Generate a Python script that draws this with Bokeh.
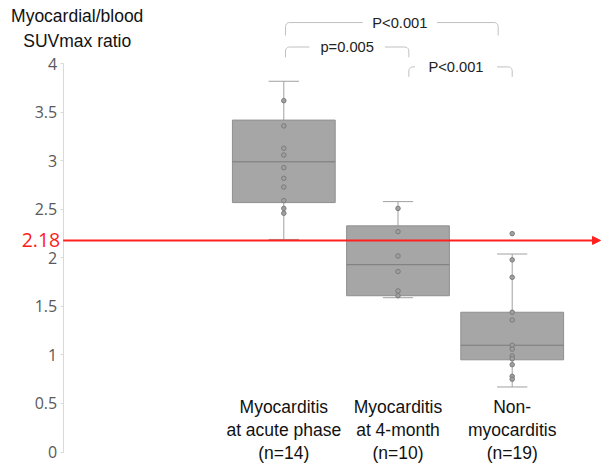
import numpy as np
from bokeh.plotting import figure
from bokeh.models import Range1d, FixedTicker, Arrow, NormalHead
from bokeh.core.properties import value
from bokeh.embed import file_html
from bokeh.resources import INLINE

# ---------------- data ----------------
categories = ["Myocarditis\nat acute phase\n(n=14)",
              "Myocarditis\nat 4-month\n(n=10)",
              "Non-\nmyocarditis\n(n=19)"]
q1 = [2.57, 1.61, 0.95]
median = [2.99, 1.93, 1.10]
q3 = [3.42, 2.33, 1.44]
whisker_low = [2.19, 1.59, 0.67]
whisker_high = [3.82, 2.58, 2.04]
points_acute = [3.62, 3.36, 3.13, 3.06, 2.93, 2.82, 2.73, 2.59, 2.51, 2.46]
points_4month = [2.51, 2.27, 2.02, 1.86, 1.66, 1.61]
points_non = [2.25, 1.98, 1.80, 1.44, 1.36, 1.10, 1.06, 0.99, 0.96, 0.90, 0.78, 0.75]
threshold = 2.18
threshold_label = "2.18"
y_ticks = [0, 0.5, 1, 1.5, 2, 2.5, 3, 3.5, 4]
y_tick_labels = ["0", "0.5", "1", "1.5", "2", "2.5", "3", "3.5", "4"]
comparisons = [(0, 2, "P<0.001"), (0, 1, "p=0.005"), (1, 2, "P<0.001")]
y_title = "Myocardial/blood\nSUVmax ratio"

# ---------------- styling / layout ----------------
FONT = value("Liberation Sans")
W, H = 602, 463
xs = np.arange(1, len(categories) + 1, dtype=float)
PXX = 114.2                        # px per x unit
Y_ZERO_PX, Y_FOUR_PX = 451.5, 63.3
PXY = (Y_ZERO_PX - Y_FOUR_PX) / 4  # px per y unit
X0 = 1 - 283.3 / PXX
X1 = X0 + W / PXX
Y0 = -(H - Y_ZERO_PX) / PXY
Y1 = Y0 + H / PXY
AXIS_X = 1 - (283.3 - 62.7) / PXX

p = figure(width=W, height=H, x_range=Range1d(X0, X1), y_range=Range1d(Y0, Y1),
           output_backend="svg", toolbar_location=None, x_axis_location=None,
           min_border=0)
p.grid.visible = False
p.outline_line_color = None
p.background_fill_color = "white"

ax = p.yaxis[0]
ax.fixed_location = AXIS_X
ax.ticker = FixedTicker(ticks=y_ticks)
ax.major_label_overrides = dict(zip(y_ticks, y_tick_labels))
ax.bounds = (0, 4)
ax.axis_line_color = "#d9d9d9"
ax.major_tick_line_color = "#d9d9d9"
ax.major_tick_in = 0
ax.major_tick_out = 3
ax.minor_tick_line_color = None
ax.major_label_text_font = "Open Sans"
ax.major_label_text_font_size = "16px"
ax.major_label_text_color = "#595959"
ax.major_label_standoff = 3

# boxes
box_w = 0.9
cap_w = 0.265
wcol = "#a0a0a0"
p.segment(x0=xs, y0=q3, x1=xs, y1=whisker_high, line_color=wcol, line_width=1)
p.segment(x0=xs, y0=q1, x1=xs, y1=whisker_low, line_color=wcol, line_width=1)
p.segment(x0=xs - cap_w / 2, y0=whisker_high, x1=xs + cap_w / 2, y1=whisker_high,
          line_color=wcol, line_width=1)
p.segment(x0=xs - cap_w / 2, y0=whisker_low, x1=xs + cap_w / 2, y1=whisker_low,
          line_color=wcol, line_width=1)
p.vbar(x=xs, width=box_w, bottom=q1, top=q3, fill_color="#a6a6a6",
       line_color="#8f8f8f", line_width=1)
p.segment(x0=xs - box_w / 2, y0=median, x1=xs + box_w / 2, y1=median,
          line_color="#7a7a7a", line_width=1)

# points
groups = [points_acute, points_4month, points_non]
px = np.concatenate([[xs[i]] * len(g) for i, g in enumerate(groups)])
py = np.concatenate(groups)
p.scatter(px, py, size=4.5, fill_color="#a0a0a0", line_color="#7a7a7a", line_width=1)

# threshold arrow and label
p.add_layout(Arrow(x_start=AXIS_X, y_start=threshold, x_end=X1 - 2 / PXX, y_end=threshold,
                   line_color="#ff2020", line_width=2,
                   end=NormalHead(size=8, fill_color="#ff2020", line_color="#ff2020")))
p.text(x=[AXIS_X], y=[threshold], text=[threshold_label], x_offset=-3,
       text_align="right", text_baseline="middle", text_color="#ff1a1a",
       text_font=value("Open Sans"), text_font_size="19.5px")

# y title
p.text(x=[AXIS_X], y=[Y1], text=[y_title], x_offset=14, y_offset=28,
       text_align="center", text_baseline="middle", text_color="#111111",
       text_font=FONT, text_font_size="17.5px", text_line_height=1.25)

# category labels
p.text(x=xs, y=[0] * len(xs), text=categories, text_align="center", text_baseline="middle",
       y_offset=-22, text_font=FONT, text_font_size="17.5px", text_color="#111111",
       text_line_height=1.15)

# significance brackets
levels = [4.425, 4.173, 3.968]
legs = [0.133, 0.106, 0.102]
end_off = [(0.015, -0.123), (0.015, 0.095), (0.095, 0.0)]
text_dx = [0.07, 0.0, -0.04]
gap_half = [0.325, 0.33, 0.36]
rx, ry = 4 / PXX, 4 / PXY
th = np.linspace(0, np.pi / 2, 6)
bx, by, tx, ty, tt = [], [], [], [], []
for k, (i, j, lab) in enumerate(comparisons):
    xl = xs[i] + end_off[k][0]
    xr = xs[j] + end_off[k][1]
    yt = levels[k]
    yb = yt - legs[k]
    xc = (xl + xr) / 2 + text_dx[k]
    arc_x = xl + rx - rx * np.cos(th)
    arc_y = yt - ry + ry * np.sin(th)
    bx.append(np.concatenate([[xl], arc_x, [xc - gap_half[k]]]))
    by.append(np.concatenate([[yb], arc_y, [yt]]))
    arc_x2 = xr - rx + rx * np.cos(th[::-1])
    arc_y2 = yt - ry + ry * np.sin(th[::-1])
    bx.append(np.concatenate([[xc + gap_half[k]], arc_x2, [xr]]))
    by.append(np.concatenate([[yt], arc_y2, [yb]]))
    tx.append(xc)
    ty.append(yt)
    tt.append(lab)
p.multi_line(xs=bx, ys=by, line_color="#c0c0c0", line_width=1)
p.text(x=tx, y=ty, text=tt, text_align="center", text_baseline="middle",
       text_font=FONT, text_font_size="14.7px", text_color="#222222")

open("out.html", "w").write(file_html(p, INLINE))
